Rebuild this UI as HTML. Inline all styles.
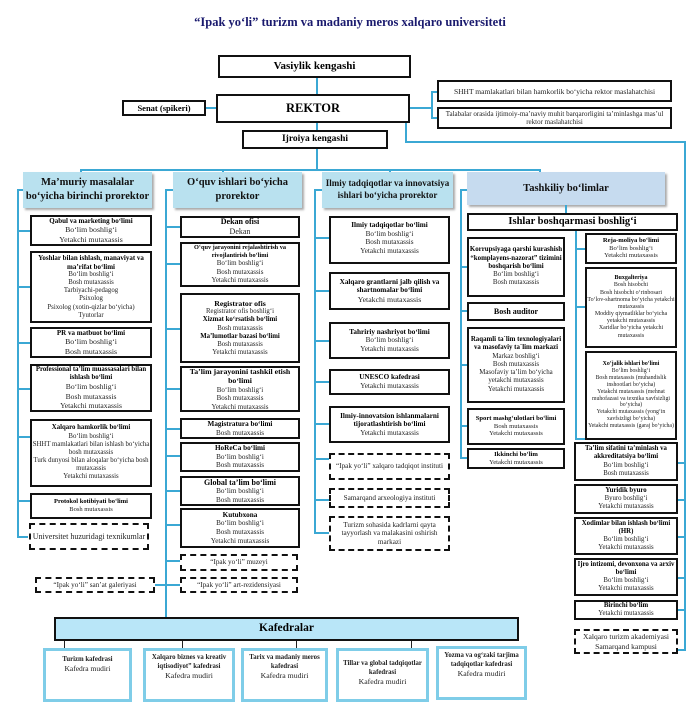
<!DOCTYPE html>
<html><head><meta charset="utf-8"><style>
body{margin:0;width:700px;height:703px;background:#fff;position:relative;overflow:hidden;font-family:"Liberation Serif",serif;}
.b{position:absolute;box-sizing:border-box;border:2px solid #111;background:#fff;text-align:center;font-size:7.2px;line-height:1.2;color:#222;display:flex;flex-direction:column;justify-content:center;overflow:hidden}
.b b{color:#000}
.d{border:2px dashed #111}
.h{position:absolute;box-sizing:border-box;background:#b9e1ef;text-align:center;font-weight:bold;font-size:10.5px;line-height:1.3;display:flex;flex-direction:column;justify-content:center;box-shadow:2px 2px 2px #aaa;color:#111}
.k{position:absolute;box-sizing:border-box;border:3px solid #7fcde8;background:#fff;text-align:center;font-size:6.8px;line-height:1.35;padding-top:4px;color:#222}
.l{position:absolute;background:#3ba8d4}
.t{position:absolute;background:#222}
</style></head><body>
<div style="position:absolute;left:0;top:15px;width:700px;text-align:center;font-weight:bold;font-size:12.5px;color:#1a1a6e">“Ipak yo‘li” turizm va madaniy meros xalqaro universiteti</div>

<div class="l" style="left:316px;top:77px;width:2px;height:18px"></div>
<div class="l" style="left:316px;top:122px;width:2px;height:8px"></div>
<div class="l" style="left:316px;top:148px;width:2px;height:22px"></div>
<div class="l" style="left:80px;top:169px;width:461px;height:2px"></div>
<div class="l" style="left:80px;top:169px;width:2px;height:4px"></div>
<div class="l" style="left:222px;top:169px;width:2px;height:4px"></div>
<div class="l" style="left:389px;top:169px;width:2px;height:4px"></div>
<div class="l" style="left:539px;top:169px;width:2px;height:4px"></div>
<div class="l" style="left:205px;top:107px;width:12px;height:2px"></div>
<div class="l" style="left:408px;top:107px;width:24px;height:2px"></div>
<div class="l" style="left:431px;top:91px;width:2px;height:28px"></div>
<div class="l" style="left:431px;top:91px;width:6px;height:2px"></div>
<div class="l" style="left:431px;top:117px;width:6px;height:2px"></div>
<div class="l" style="left:405px;top:122px;width:2px;height:20px"></div>
<div class="l" style="left:405px;top:141px;width:281px;height:2px"></div>
<div class="l" style="left:684px;top:141px;width:2px;height:510px"></div>

<div class="b" style="left:218px;top:55px;width:193px;height:23px;font-size:11px"><b>Vasiylik kengashi</b></div>
<div class="b" style="left:216px;top:94px;width:194px;height:29px;font-size:12.5px;border-width:2.5px"><b>REKTOR</b></div>
<div class="b" style="left:122px;top:100px;width:84px;height:16px;font-size:8.5px"><b>Senat (spikeri)</b></div>
<div class="b" style="left:242px;top:130px;width:146px;height:19px;font-size:9.5px"><b>Ijroiya kengashi</b></div>
<div class="b" style="left:437px;top:80px;width:235px;height:22px;font-size:7.5px">SHHT mamlakatlari bilan hamkorlik bo‘yicha rektor maslahatchisi</div>
<div class="b" style="left:437px;top:107px;width:235px;height:22px;font-size:7px">Talabalar orasida ijtimoiy-ma’naviy muhit barqarorligini ta’minlashga mas’ul rektor maslahatchisi</div>

<div class="h" style="left:23px;top:172px;width:129px;height:36px">Ma’muriy masalalar<br>bo‘yicha birinchi prorektor</div>
<div class="h" style="left:173px;top:172px;width:129px;height:36px">O‘quv ishlari bo‘yicha<br>prorektor</div>
<div class="h" style="left:322px;top:172px;width:131px;height:36px;font-size:9px">Ilmiy tadqiqotlar va innovatsiya<br>ishlari bo‘yicha prorektor</div>
<div class="h" style="left:467px;top:172px;width:198px;height:33px;background:#c6dbef">Tashkiliy bo‘limlar</div>

<div class="l" style="left:17px;top:189px;width:2px;height:349px"></div>
<div class="l" style="left:17px;top:189px;width:6px;height:2px"></div>
<div class="l" style="left:17px;top:230px;width:13px;height:2px"></div>
<div class="l" style="left:17px;top:286px;width:13px;height:2px"></div>
<div class="l" style="left:17px;top:342px;width:13px;height:2px"></div>
<div class="l" style="left:17px;top:388px;width:13px;height:2px"></div>
<div class="l" style="left:17px;top:436px;width:13px;height:2px"></div>
<div class="l" style="left:17px;top:500px;width:13px;height:2px"></div>
<div class="l" style="left:17px;top:536px;width:11px;height:2px"></div>
<div class="b" style="left:30px;top:215px;width:122px;height:31px;font-size:7.8px"><b style="font-size:7px">Qabul va marketing bo‘limi</b>Bo‘lim boshlig‘i<br>Yetakchi mutaxassis</div>
<div class="b" style="left:30px;top:251px;width:122px;height:72px;font-size:6.8px"><b style="font-size:7px">Yoshlar bilan ishlash, manaviyat va ma’rifat bo‘limi</b>Bo‘lim boshlig‘i<br>Bosh mutaxassis<br>Tarbiyachi-pedagog<br>Psixolog<br>Psixolog (xotin-qizlar bo‘yicha)<br>Tyutorlar</div>
<div class="b" style="left:30px;top:327px;width:122px;height:31px;font-size:7.8px"><b style="font-size:7px">PR va matbuot bo‘limi</b>Bo‘lim boshlig‘i<br>Bosh mutaxassis</div>
<div class="b" style="left:30px;top:364px;width:122px;height:48px;font-size:7.6px"><b style="font-size:6.8px">Professional ta’lim muassasalari bilan ishlash bo‘limi</b>Bo‘lim boshlig‘i<br>Bosh mutaxassis<br>Yetakchi mutaxassis</div>
<div class="b" style="left:30px;top:419px;width:122px;height:68px;font-size:6.8px"><b>Xalqaro hamkorlik bo‘limi</b>Bo‘lim boshlig‘i<br>SHHT mamlakatlari bilan ishlash bo‘yicha bosh mutaxassis<br>Turk dunyosi bilan aloqalar bo‘yicha bosh mutaxassis<br>Yetakchi mutaxassis</div>
<div class="b" style="left:30px;top:493px;width:122px;height:26px;font-size:6.5px;justify-content:flex-start;padding-top:3px"><b>Protokol kotibiyati bo‘limi</b>Bosh mutaxassis</div>
<div class="b d" style="left:29px;top:523px;width:120px;height:27px;font-size:8px">Universitet huzuridagi texnikumlar</div>

<div class="l" style="left:165px;top:189px;width:2px;height:428px"></div>
<div class="l" style="left:165px;top:189px;width:8px;height:2px"></div>
<div class="l" style="left:165px;top:226px;width:15px;height:2px"></div>
<div class="l" style="left:165px;top:263px;width:15px;height:2px"></div>
<div class="l" style="left:165px;top:328px;width:15px;height:2px"></div>
<div class="l" style="left:165px;top:388px;width:15px;height:2px"></div>
<div class="l" style="left:165px;top:428px;width:15px;height:2px"></div>
<div class="l" style="left:165px;top:455px;width:15px;height:2px"></div>
<div class="l" style="left:165px;top:490px;width:15px;height:2px"></div>
<div class="l" style="left:165px;top:524px;width:15px;height:2px"></div>
<div class="l" style="left:165px;top:560px;width:15px;height:2px"></div>
<div class="l" style="left:155px;top:584px;width:25px;height:2px"></div>
<div class="b" style="left:180px;top:216px;width:120px;height:22px;font-size:8px"><b>Dekan ofisi</b>Dekan</div>
<div class="b" style="left:180px;top:242px;width:120px;height:45px;font-size:7px"><b style="font-size:6.3px">O‘quv jarayonini rejalashtirish va rivojlantirish bo‘limi</b>Bo‘lim boshlig‘i<br>Bosh mutaxassis<br>Yetakchi mutaxassis</div>
<div class="b" style="left:180px;top:293px;width:120px;height:70px;font-size:6.8px"><b style="font-size:7.8px">Registrator ofis</b>Registrator ofis boshlig‘i<br><b>Xizmat ko‘rsatish bo‘limi</b>Bosh mutaxassis<br><b>Ma’lumotlar bazasi bo‘limi</b>Bosh mutaxassis<br>Yetakchi mutaxassis</div>
<div class="b" style="left:180px;top:366px;width:120px;height:46px;font-size:7px"><b style="font-size:7.8px">Ta’lim jarayonini tashkil etish bo‘limi</b>Bo‘lim boshlig‘i<br>Bosh mutaxassis<br>Yetakchi mutaxassis</div>
<div class="b" style="left:180px;top:418px;width:120px;height:21px"><b>Magistratura bo‘limi</b>Bosh mutaxassis</div>
<div class="b" style="left:180px;top:442px;width:120px;height:30px"><b>HoReCa bo‘limi</b>Bo‘lim boshlig‘i<br>Bosh mutaxassis</div>
<div class="b" style="left:180px;top:476px;width:120px;height:30px"><b style="font-size:8px">Global ta’lim bo‘limi</b>Bo‘lim boshlig‘i<br>Bosh mutaxassis</div>
<div class="b" style="left:180px;top:508px;width:120px;height:40px"><b>Kutubxona</b>Bo‘lim boshlig‘i<br>Bosh mutaxassis<br>Yetakchi mutaxassis</div>
<div class="b d" style="left:180px;top:554px;width:118px;height:17px">“Ipak yo‘li” muzeyi</div>
<div class="b d" style="left:180px;top:577px;width:118px;height:16px">“Ipak yo‘li” art-rezidensiyasi</div>
<div class="b d" style="left:35px;top:577px;width:120px;height:16px">“Ipak yo‘li” san’at galeriyasi</div>

<div class="l" style="left:314px;top:189px;width:2px;height:345px"></div>
<div class="l" style="left:314px;top:189px;width:8px;height:2px"></div>
<div class="l" style="left:314px;top:237px;width:15px;height:2px"></div>
<div class="l" style="left:314px;top:290px;width:15px;height:2px"></div>
<div class="l" style="left:314px;top:340px;width:15px;height:2px"></div>
<div class="l" style="left:314px;top:381px;width:15px;height:2px"></div>
<div class="l" style="left:314px;top:423px;width:15px;height:2px"></div>
<div class="l" style="left:314px;top:458px;width:15px;height:2px"></div>
<div class="l" style="left:314px;top:499px;width:15px;height:2px"></div>
<div class="l" style="left:314px;top:532px;width:15px;height:2px"></div>
<div class="b" style="left:329px;top:216px;width:121px;height:48px;justify-content:flex-start;padding-top:3px"><b>Ilmiy tadqiqotlar bo‘limi</b>Bo‘lim boshlig‘i<br>Bosh mutaxassis<br>Yetakchi mutaxassis</div>
<div class="b" style="left:329px;top:272px;width:121px;height:38px"><b>Xalqaro grantlarni jalb qilish va shartnomalar bo‘limi</b><span style="font-size:7.8px">Yetakchi mutaxassis</span></div>
<div class="b" style="left:329px;top:322px;width:121px;height:37px"><b>Tahririy nashriyot bo‘limi</b>Bo‘lim boshlig‘i<br>Yetakchi mutaxassis</div>
<div class="b" style="left:329px;top:369px;width:121px;height:26px"><b>UNESCO kafedrasi</b>Yetakchi mutaxassis</div>
<div class="b" style="left:329px;top:406px;width:121px;height:37px"><b>Ilmiy-innovatsion ishlanmalarni tijoratlashtirish bo‘limi</b>Yetakchi mutaxassis</div>
<div class="b d" style="left:329px;top:453px;width:121px;height:27px">“Ipak yo‘li” xalqaro tadqiqot instituti</div>
<div class="b d" style="left:329px;top:488px;width:121px;height:20px">Samarqand arxeologiya instituti</div>
<div class="b d" style="left:329px;top:516px;width:121px;height:35px">Turizm sohasida kadrlarni qayta tayyorlash va malakasini oshirish markazi</div>

<div class="l" style="left:565px;top:205px;width:2px;height:10px"></div>
<div class="b" style="left:467px;top:213px;width:211px;height:18px;font-size:10.5px"><b>Ishlar boshqarmasi boshlig‘i</b></div>
<div class="l" style="left:460px;top:189px;width:2px;height:270px"></div>
<div class="l" style="left:460px;top:189px;width:7px;height:2px"></div>
<div class="l" style="left:460px;top:266px;width:7px;height:2px"></div>
<div class="l" style="left:460px;top:310px;width:7px;height:2px"></div>
<div class="l" style="left:460px;top:364px;width:7px;height:2px"></div>
<div class="l" style="left:460px;top:425px;width:7px;height:2px"></div>
<div class="l" style="left:460px;top:457px;width:7px;height:2px"></div>
<div class="l" style="left:575px;top:231px;width:2px;height:208px"></div>
<div class="l" style="left:575px;top:248px;width:10px;height:2px"></div>
<div class="l" style="left:575px;top:306px;width:10px;height:2px"></div>
<div class="l" style="left:575px;top:438px;width:10px;height:2px"></div>
<div class="b" style="left:467px;top:237px;width:98px;height:60px;font-size:6.9px"><b>Korrupsiyaga qarshi kurashish “komplayens-nazorat” tizimini boshqarish bo‘limi</b>Bo‘lim boshlig‘i<br>Bosh mutaxassis</div>
<div class="b" style="left:467px;top:302px;width:98px;height:19px;font-size:8px"><b>Bosh auditor</b></div>
<div class="b" style="left:467px;top:327px;width:98px;height:76px;font-size:6.9px"><b>Raqamli ta`lim texnologiyalari va masofaviy ta`lim markazi</b>Markaz boshlig‘i<br>Bosh mutaxassis<br>Masofaviy ta’lim bo‘yicha yetakchi mutaxassis<br>Yetakchi mutaxassis</div>
<div class="b" style="left:467px;top:408px;width:98px;height:37px;font-size:6.6px"><b>Sport mashg‘ulotlari bo‘limi</b>Bosh mutaxassis<br>Yetakchi mutaxassis</div>
<div class="b" style="left:467px;top:448px;width:98px;height:21px;font-size:6.6px"><b>Ikkinchi bo‘lim</b>Yetakchi mutaxassis</div>

<div class="b" style="left:585px;top:233px;width:92px;height:31px;font-size:6.6px"><b>Reja-moliya bo‘limi</b>Bo‘lim boshlig‘i<br>Yetakchi mutaxassis</div>
<div class="b" style="left:585px;top:267px;width:92px;height:81px;font-size:6px"><b>Buxgalteriya</b>Bosh hisobchi<br>Bosh hisobchi o‘rinbosari<br>To‘lov-shartnoma bo‘yicha yetakchi mutaxassis<br>Moddiy qiymatliklar bo‘yicha yetakchi mutaxassis<br>Xaridlar bo‘yicha yetakchi mutaxassis</div>
<div class="b" style="left:585px;top:351px;width:92px;height:89px;font-size:5.8px"><b>Xo‘jalik ishlari bo‘limi</b>Bo‘lim boshlig‘i<br>Bosh mutaxassis (muhandislik inshootlari bo‘yicha)<br>Yetakchi mutaxassis (mehnat muhofazasi va texnika xavfsizligi bo‘yicha)<br>Yetakchi mutaxassis (yong‘in xavfsizligi bo‘yicha)<br>Yetakchi mutaxassis (garaj bo‘yicha)</div>

<div class="l" style="left:677px;top:462px;width:7px;height:2px"></div>
<div class="l" style="left:677px;top:499px;width:7px;height:2px"></div>
<div class="l" style="left:677px;top:536px;width:7px;height:2px"></div>
<div class="l" style="left:677px;top:577px;width:7px;height:2px"></div>
<div class="l" style="left:677px;top:609px;width:7px;height:2px"></div>
<div class="l" style="left:677px;top:649px;width:7px;height:2px"></div>
<div class="b" style="left:574px;top:442px;width:104px;height:39px;font-size:6.8px"><b>Ta’lim sifatini ta’minlash va akkreditatsiya bo‘limi</b>Bo‘lim boshlig‘i<br>Bosh mutaxassis</div>
<div class="b" style="left:574px;top:484px;width:104px;height:30px;font-size:6.8px"><b>Yuridik byuro</b>Byuro boshlig‘i<br>Yetakchi mutaxassis</div>
<div class="b" style="left:574px;top:517px;width:104px;height:38px;font-size:6.8px"><b>Xodimlar bilan ishlash bo‘limi (HR)</b>Bo‘lim boshlig‘i<br>Yetakchi mutaxassis</div>
<div class="b" style="left:574px;top:558px;width:104px;height:38px;font-size:6.8px"><b>Ijro intizomi, devonxona va arxiv bo‘limi</b>Bo‘lim boshlig‘i<br>Yetakchi mutaxassis</div>
<div class="b" style="left:574px;top:600px;width:104px;height:20px;font-size:6.8px"><b>Birinchi bo‘lim</b>Yetakchi mutaxassis</div>
<div class="b d" style="left:574px;top:629px;width:104px;height:25px;font-size:7.6px">Xalqaro turizm akademiyasi Samarqand kampusi</div>

<div class="b" style="left:54px;top:617px;width:465px;height:24px;background:#b9e6f8;font-size:11.5px;border-width:2.5px"><b>Kafedralar</b></div>
<div class="t" style="left:64px;top:641px;width:1px;height:7px"></div>
<div class="t" style="left:182px;top:641px;width:1px;height:7px"></div>
<div class="t" style="left:296px;top:641px;width:1px;height:7px"></div>
<div class="t" style="left:411px;top:641px;width:1px;height:7px"></div>
<div class="k" style="left:43px;top:648px;width:89px;height:54px"><b>Turizm kafedrasi</b><br><span style="font-size:7.5px">Kafedra mudiri</span></div>
<div class="k" style="left:143px;top:648px;width:92px;height:54px;padding-top:2px"><b>Xalqaro biznes va kreativ iqtisodiyot” kafedrasi</b><br><span style="font-size:7.8px">Kafedra mudiri</span></div>
<div class="k" style="left:241px;top:648px;width:87px;height:54px;padding-top:2px"><b>Tarix va madaniy meros kafedrasi</b><br><span style="font-size:7.8px">Kafedra mudiri</span></div>
<div class="k" style="left:336px;top:648px;width:93px;height:54px;padding-top:8px"><b>Tillar va global tadqiqotlar kafedrasi</b><br><span style="font-size:7.8px">Kafedra mudiri</span></div>
<div class="k" style="left:436px;top:646px;width:91px;height:54px;padding-top:2px"><b>Yozma va og‘zaki tarjima tadqiqotlar kafedrasi</b><br><span style="font-size:7.8px">Kafedra mudiri</span></div>
</body></html>
